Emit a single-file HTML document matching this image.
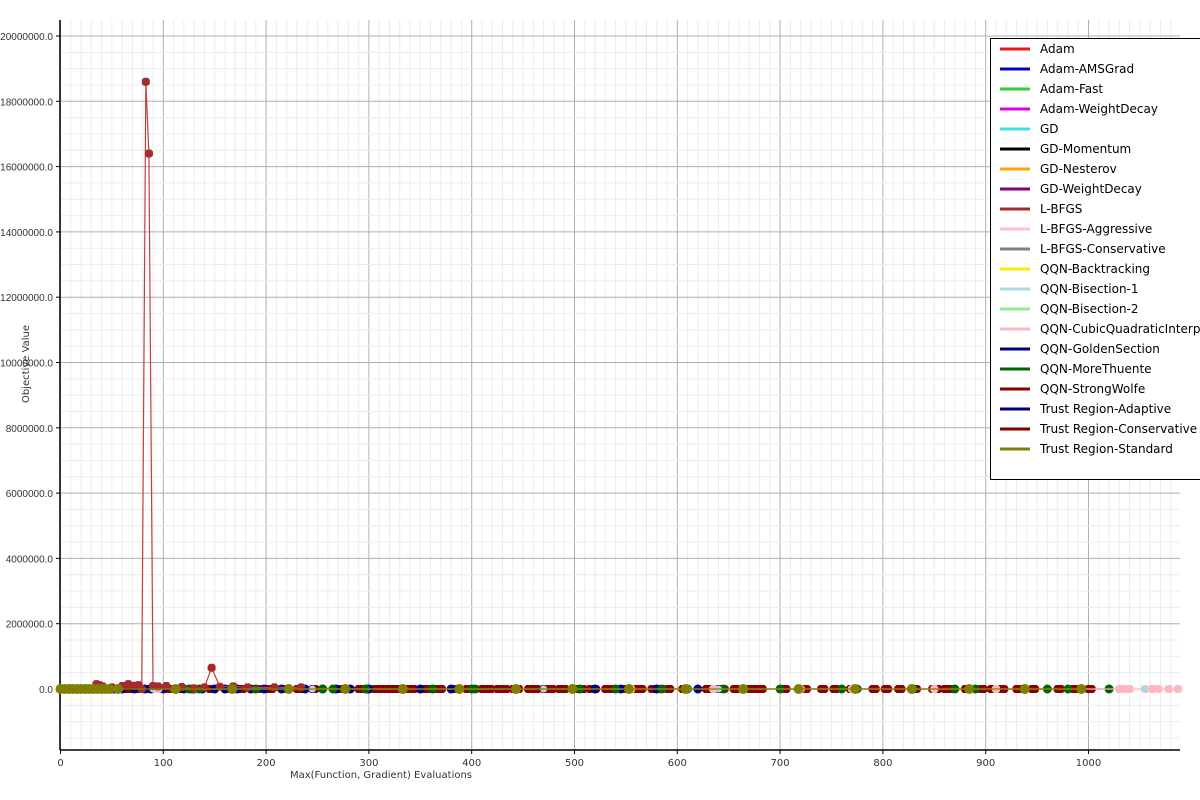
<!DOCTYPE html>
<html><head><meta charset="utf-8"><style>
body{margin:0;background:#fff;font-family:"DejaVu Sans","Liberation Sans",sans-serif;}
svg{display:block}
</style></head><body>
<svg id="chart" width="1200" height="800"></svg>
<script>
const xTicks=[0,100,200,300,400,500,600,700,800,900,1000];
const yTicks=[0,2000000,4000000,6000000,8000000,10000000,12000000,14000000,16000000,18000000,20000000];
const legendNames=["Adam","Adam-AMSGrad","Adam-Fast","Adam-WeightDecay","GD","GD-Momentum","GD-Nesterov","GD-WeightDecay","L-BFGS","L-BFGS-Aggressive","L-BFGS-Conservative","QQN-Backtracking","QQN-Bisection-1","QQN-Bisection-2","QQN-CubicQuadraticInterpolation","QQN-GoldenSection","QQN-MoreThuente","QQN-StrongWolfe","Trust Region-Adaptive","Trust Region-Conservative","Trust Region-Standard"];
const legendColors=["#e41a1c","#0000cd","#32cd32","#e000e0","#40e0e0","#000000","#ffa500","#800080","#a52a2a","#ffc0cb","#808080","#f0f000","#add8e6","#90ee90","#ffb6c1","#000080","#006400","#8b0000","#000080","#800000","#808000"];
const lbfgsX=[35,38,41,50,60,66,72,76,79,83,86,90,95,103,110,118,130,140,147,155,168,182,208,234];
const lbfgsY=[150000,120000,80000,50000,90000,150000,100000,120000,0,18600000,16400000,90000,80000,90000,0,60000,20000,50000,650000,70000,80000,50000,50000,50000];
const strongX=[60,63,66,68,71,73,75,78,85,88,95,98,105,108,115,118,125,145,148,160,163,175,178,188,190,193,200,203,206,215,218,230,233,236,245,248,255,270,273,290,293,305,308,311,314,317,320,323,326,329,335,338,341,344,350,353,356,359,365,368,371,380,383,386,395,398,401,404,410,413,416,419,425,428,431,434,440,443,446,455,458,461,464,470,473,476,479,485,488,491,500,503,506,509,515,518,521,530,533,536,539,545,548,560,563,566,575,578,581,590,593,605,628,631,634,640,643,646,655,658,670,673,676,679,683,700,703,706,720,723,726,740,743,752,755,768,790,793,802,805,815,818,830,833,848,851,854,860,863,866,880,883,895,898,905,908,915,918,930,933,945,948,970,973,985,988,1000,1003,1020];
const navyX=[52,60,72,82,88,100,112,120,128,138,150,160,172,185,198,215,238,255,268,282,298,300,350,380,520,545,580,620];
const greenX=[125,130,135,190,255,265,297,362,400,403,505,540,585,610,645,665,700,718,760,775,830,870,890,960,980,1020];
const pinkX=[95,555,635,720,770,850,910,1030,1035,1040,1055,1062,1068,1078,1087];
const lightblueX=[90,245,470,610,640,1055];
const oliveX=[0,4,8,12,16,20,24,28,32,36,40,44,48,56,112,167,222,277,333,388,443,498,553,608,664,718,773,828,884,938,993];
const X0=60.5,XS=1.028,Y0=689,YS=32.65/1e6;
const sx=v=>X0+v*XS, sy=v=>Y0-v*YS;
const svg=document.getElementById('chart');const NS='http://www.w3.org/2000/svg';
function mk(t,a,p){const e=document.createElementNS(NS,t);for(const k in a)e.setAttribute(k,a[k]);(p||svg).appendChild(e);return e;}
const L=60,R=1180,T=20,B=750;
const grid=mk('g',{});


for(let v=0;v<=1080;v+=10){const x=sx(v);if(x>R)break;mk('line',{x1:x,x2:x,y1:T,y2:B,stroke:v%100?'#ececec':'#b0b0b0','stroke-width':1},grid);}
for(let v=-1500000;v<=20500000;v+=500000){const y=sy(v);if(y<T||y>B)continue;mk('line',{x1:L,x2:R,y1:y,y2:y,stroke:v%2000000?'#ececec':'#b0b0b0','stroke-width':1},grid);}
const ax=mk('g',{});


mk('line',{x1:L,x2:L,y1:T,y2:B,stroke:'#000','stroke-width':1.5},ax);
mk('line',{x1:L,x2:R,y1:B,y2:B,stroke:'#000','stroke-width':1.5},ax);
xTicks.forEach(v=>{const x=sx(v);mk('line',{x1:x,x2:x,y1:B,y2:B+4,stroke:'#000'},ax);const t=mk('text',{x:x,y:B+16,'font-size':10,'text-anchor':'middle',fill:'#333'},ax);t.textContent=v;});
yTicks.forEach(v=>{const y=sy(v);mk('line',{x1:L-4,x2:L,y1:y,y2:y,stroke:'#000'},ax);const t=mk('text',{x:L-7,y:y+4,'font-size':10,'text-anchor':'end',fill:'#333','font-family':'Liberation Sans, sans-serif'},ax);t.textContent=v.toFixed(1);});
const xt=mk('text',{x:381,y:778,'font-size':10,'text-anchor':'middle',fill:'#333'});xt.textContent='Max(Function, Gradient) Evaluations';


const yt=mk('text',{x:29,y:364,'font-size':10,'text-anchor':'middle',fill:'#333',transform:'rotate(-90 29 364)'});yt.textContent='Objective Value';


function series(name,xs,ys,color,r,shape,lineCol){const g=mk('g',{});


if(lineCol){mk('polyline',{points:xs.map((x,i)=>sx(x)+','+sy(ys?ys[i]:0)).join(' '),fill:'none',stroke:lineCol,'stroke-width':1.2},g);}
xs.forEach((x,i)=>{const cx=sx(x),cy=sy(ys?ys[i]:0);if(cx>R)return;
if(shape==='sq')mk('polygon',{points:[[cx-2,cy-4],[cx+2,cy-4],[cx+4,cy-2],[cx+4,cy+2],[cx+2,cy+4],[cx-2,cy+4],[cx-4,cy+2],[cx-4,cy-2]].map(p=>p.join(',')).join(' '),fill:color},g);
else mk('circle',{cx:cx,cy:cy,r:r,fill:color},g);});}
series('series-qqn-strongwolfe',strongX,null,'#8b0000',4.5,'sq','#8b0000');
series('series-navy',navyX,null,'#000080',4.5,'c');
series('series-green',greenX,null,'#006400',4.5,'c');
series('series-pink',pinkX,null,'#ffb6c1',4.5,'sq','#ffb6c1');
series('series-lightblue',lightblueX,null,'#add8e6',3.5,'c');
series('series-lbfgs',lbfgsX,lbfgsY,'#a52a2a',4,'sq','#c04040');
series('series-trust-region-standard',oliveX,null,'#808000',5,'c','#808000');
const lg=mk('g',{});


mk('rect',{x:990.5,y:38.5,width:218,height:441,fill:'#fff',stroke:'#000'},lg);
legendNames.forEach((n,i)=>{const y=49+i*20;const e=mk('g',{},lg);


mk('line',{x1:1000,x2:1030,y1:y,y2:y,stroke:legendColors[i],'stroke-width':3},e);
const t=mk('text',{x:1040,y:y+4,'font-size':12,fill:'#000'},e);t.textContent=n;});
</script>
</body></html>
